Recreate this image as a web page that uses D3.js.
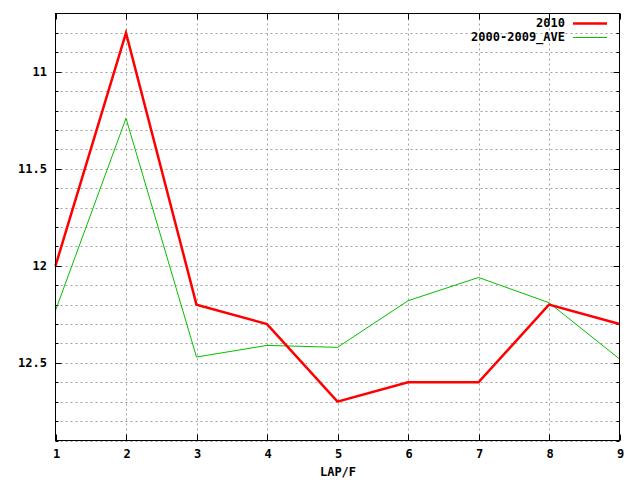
<!DOCTYPE html>
<html><head><meta charset="utf-8">
<script src="https://cdn.jsdelivr.net/npm/d3@7/dist/d3.min.js"></script>
<style>body{margin:0;background:#fff}svg{display:block}text{font-family:"DejaVu Sans Mono",monospace;font-weight:bold;font-size:12px;fill:#000}</style>
</head><body><svg id="c" width="640" height="480"></svg>
<script>
const laps = [1,2,3,4,5,6,7,8,9];
const series2010 = [12.0,10.8,12.2,12.3,12.7,12.6,12.6,12.2,12.3];
const seriesAve = [12.23,11.24,12.47,12.41,12.42,12.18,12.06,12.19,12.48];
const yTicks = [11,11.5,12,12.5];
const seriesNames = ["2010","2000-2009_AVE"];
const xLabel = "LAP/F";

const svg = d3.select("#c");
const L=55.5,R=619.5,T=13.5,B=440.5;
const x = d3.scaleLinear().domain([1,9]).range([L,R]);
const y = d3.scaleLinear().domain([10.7,12.9]).range([T,B]);
const minor = d3.range(108,130).map(v=>v/10);

// grid
const g = svg.append("g");
g.selectAll("line.hg").data(minor).enter().append("line")
 .attr("x1",L).attr("x2",R).attr("y1",d=>Math.round(y(d))+0.5).attr("y2",d=>Math.round(y(d))+0.5)
 .attr("stroke","#a0a0a0").attr("stroke-dasharray","2,3");
g.selectAll("line.vg").data(laps.slice(1,-1)).enter().append("line")
 .attr("y1",T).attr("y2",B).attr("x1",d=>Math.round(x(d))+0.5).attr("x2",d=>Math.round(x(d))+0.5)
 .attr("stroke","#a0a0a0").attr("stroke-dasharray","2,3");

// ticks
const t = svg.append("g").attr("stroke","#000");
minor.forEach(v=>{
  const major = yTicks.some(m=>Math.abs(m-v)<1e-6);
  const len = major?6:3; const yy=Math.round(y(v))+0.5;
  t.append("line").attr("x1",L).attr("x2",L+len).attr("y1",yy).attr("y2",yy);
  t.append("line").attr("x1",R).attr("x2",R-len).attr("y1",yy).attr("y2",yy);
});
laps.forEach(v=>{
  const xx=Math.round(x(v))+0.5;
  t.append("line").attr("y1",B).attr("y2",B-6).attr("x1",xx).attr("x2",xx);
  t.append("line").attr("y1",T).attr("y2",T+6).attr("x1",xx).attr("x2",xx);
});

// labels
svg.selectAll("text.yl").data(yTicks).enter().append("text")
 .attr("x",47).attr("y",d=>y(d)+4).attr("text-anchor","end").text(d=>d);
svg.selectAll("text.xl").data(laps).enter().append("text")
 .attr("x",d=>x(d)+1).attr("y",458).attr("text-anchor","middle").text(d=>d);
svg.append("text").attr("x",338).attr("y",476).attr("text-anchor","middle").text(xLabel);

// lines
const line = d3.line().x((d,i)=>x(laps[i])).y(d=>y(d));
svg.append("path").datum(seriesAve).attr("d",line).attr("fill","none").attr("stroke","#00c000").attr("stroke-width",1);
svg.append("path").datum(series2010).attr("d",line).attr("fill","none").attr("stroke","#ff0000").attr("stroke-width",2.5);

// frame
svg.append("rect").attr("x",L).attr("y",T).attr("width",R-L).attr("height",B-T).attr("fill","none").attr("stroke","#000");

// legend
const cols=["#ff0000","#00c000"], widths=[2.5,1];
seriesNames.forEach((n,i)=>{
  const yy=23+i*14;
  svg.append("text").attr("x",565).attr("y",yy+4).attr("text-anchor","end").text(n);
  svg.append("line").attr("x1",573).attr("x2",607).attr("y1",yy+0.5).attr("y2",yy+0.5).attr("stroke",cols[i]).attr("stroke-width",widths[i]);
});
</script></body></html>
